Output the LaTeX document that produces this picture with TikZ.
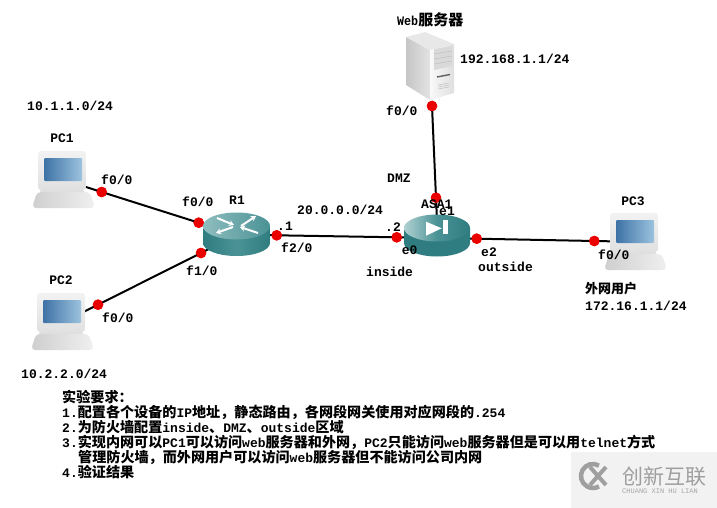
\documentclass[tikz,border=0pt]{standalone}
\usepackage{fontspec}
\setmainfont{Liberation Mono}[BoldFont={Liberation Mono Bold}]
\newfontfamily\cjk{Noto Sans CJK SC}
\newfontfamily\narrow[FakeStretch=0.9]{Liberation Mono Bold}
\usetikzlibrary{arrows.meta,calc}
\newcommand{\Zh}[1]{{\cjk\bfseries #1}}
\newcommand{\Zt}[1]{{\cjk\bfseries\fontsize{15}{15}\selectfont #1}}
\newcommand{\Zb}[1]{{\cjk\bfseries\fontsize{14.1}{15}\selectfont #1}}
\definecolor{tealA}{HTML}{2F7D80}
\definecolor{tealB}{HTML}{4A9295}
\definecolor{tealC}{HTML}{8FBDBF}
\definecolor{scrA}{HTML}{3E72A6}
\definecolor{scrB}{HTML}{9CC3DE}
\tikzset{
  lbl/.style={font=\fontsize{13}{15}\selectfont\bfseries, inner sep=0pt, anchor=west, text=black},
  ctr/.style={lbl, anchor=center},
  port/.style={circle, fill=red!92!black, draw=none, minimum size=10.5pt, inner sep=0pt},
  link/.style={draw=black, line width=2pt},
  pics/laptop/.style={code={
    \path[fill=gray!25, rounded corners=1pt] (2,39) rectangle (46,43);
    \path[left color=gray!38, right color=gray!12, rounded corners=4pt] (-1,41) -- (52,41) -- (57,57) -- (-6,57) -- cycle;
    \path[top color=gray!10, bottom color=gray!24, rounded corners=3pt] (0,0) rectangle (48,39);
    \path[left color=scrA, right color=scrB, rounded corners=1pt] (6,7) rectangle (44,30);
  }},
}
\begin{document}
\begin{tikzpicture}[x=1pt,y=-1pt]
\useasboundingbox (0,0) rectangle (717,508);
% watermark
\path[fill=gray!10] (571,452) rectangle (717,508);
\draw[gray!75, line width=4.5pt] (593,476) ++(60:12pt) arc[start angle=60, end angle=300, radius=12pt];
\draw[gray!75, line width=4pt] (590,467) -- (606,485) (590,485) -- (606,467);
\node[inner sep=0pt, anchor=west, text=gray!75, font=\cjk\fontsize{21}{21}\selectfont] (wm1) at (622,477) {创新互联};
\node[inner sep=0pt, anchor=west, text=gray!70, font=\fontsize{7}{7}\selectfont] (wm2) at (622,491) {CHUANG XIN HU LIAN};
% port nodes
\node[port] (p1) at (101.7,192) {};
\node[port] (r1a) at (198.7,222.7) {};
\node[port] (r1b) at (201,253) {};
\node[port] (p2) at (98,304.7) {};
\node[port] (r1c) at (276.7,235.3) {};
\node[port] (a0) at (396.7,237.3) {};
\node[port] (a2) at (476.7,238.7) {};
\node[port] (p3) at (594.3,241) {};
\node[port] (sv) at (432,106) {};
\node[port] (a1) at (436,197.7) {};
% links
\draw[link, shorten <=-17pt, shorten >=-6pt] (p1.center) -- (r1a.center);
\draw[link, shorten <=-15pt, shorten >=-8pt] (p2.center) -- (r1b.center);
\draw[link, shorten <=-7pt, shorten >=-8pt] (r1c.center) -- (a0.center);
\draw[link, shorten <=-8pt, shorten >=-18pt] (a2.center) -- (p3.center);
\draw[link, shorten <=-5pt, shorten >=-18pt] (sv.center) -- (a1.center);
% laptops
\pic (pc1) at (38,151) {laptop};
\pic (pc2) at (37,293) {laptop};
\pic (pc3) at (610,213) {laptop};
% router
\path[left color=tealA, right color=tealA, middle color=tealB] (203,226) -- (203,243) arc[start angle=180, end angle=360, x radius=33.5pt, y radius=13pt] -- (270,226) -- cycle;
\path[left color=tealC, right color=tealB] (236.5,226) ellipse[x radius=33.5pt, y radius=13.5pt];
\draw[white, line width=2pt, -{Stealth[length=5pt,width=6pt]}] (217,218) -- (234,225);
\draw[white, line width=2pt, -{Stealth[length=5pt,width=6pt]}] (241,226) -- (256,216);
\draw[white, line width=2pt, -{Stealth[length=5pt,width=6pt]}] (233,227) -- (216,233);
\draw[white, line width=2pt, -{Stealth[length=5pt,width=6pt]}] (258,233) -- (240,227);
% ASA
\path[fill=tealA] (404,228) -- (404,243) arc[start angle=180, end angle=360, x radius=33pt, y radius=13.5pt] -- (470,228) -- cycle;
\path[left color=tealC!70!white, right color=tealA, middle color=tealB] (437,228) ellipse[x radius=33pt, y radius=13.5pt];
\path[fill=white] (426,221.7) -- (441.7,228.3) -- (426,235.7) -- cycle;
\path[fill=white] (443,220) rectangle (447.7,234);
% server
\path[left color=gray!45, right color=gray!22] (406,37) -- (430,50) -- (430,100) -- (406,85) -- cycle;
\path[fill=gray!18] (406,37) -- (425,32) -- (454,44) -- (430,50) -- cycle;
\path[left color=gray!5, right color=gray!25] (430,50) -- (454,44) -- (454,93) -- (430,100) -- cycle;
\path[fill=gray!30] (434,49) -- (452,46) -- (452,66) -- (434,70) -- cycle;
\draw[gray!55, line width=.4pt] (434,54) -- (452,51) (434,59) -- (452,56) (434,64) -- (452,61);
\draw[gray!75!black, line width=1.4pt] (437,77) -- (450,74.5);
\draw[gray!50, line width=.5pt] (438,85) -- (449,83) (438,87) -- (449,85) (438,89) -- (449,87);
% ports above devices
\node[port] at (p1) {}; \node[port] at (r1a) {}; \node[port] at (r1b) {}; \node[port] at (p2) {};
\node[port] at (r1c) {}; \node[port] at (a0) {}; \node[port] at (a2) {}; \node[port] at (p3) {};
\node[port] at (sv) {}; \node[port] at (a1) {};
% labels
\node[lbl] (l1) at (27,106) {10.1.1.0/24};
\node[ctr] (l2) at (62,138) {PC1};
\node[lbl] (l3) at (101,179.5) {f0/0};
\node[lbl] (l4) at (182,201.7) {f0/0};
\node[lbl] (l5) at (229,200.5) {R1};
\node[lbl] (l6) at (277,226.5) {.1};
\node[lbl] (l7) at (281,248) {f2/0};
\node[lbl] (l8) at (186,270.5) {f1/0};
\node[ctr] (l9) at (61,280) {PC2};
\node[lbl] (l10) at (102,318) {f0/0};
\node[lbl] (l11) at (21,374) {10.2.2.0/24};
\node[lbl] (l12) at (297,210) {20.0.0.0/24};
\node[lbl] (l13) at (385,227) {.2};
\node[lbl] (l14) at (401.7,250) {e0};
\node[lbl] (l15) at (366,272) {inside};
\node[lbl] (l16) at (421,204) {ASA1};
\node[lbl] (l17) at (439,211) {e1};
\node[lbl] (l18) at (387,178) {DMZ};
\node[lbl] (l19) at (386,111) {f0/0};
\node[lbl] (l20) at (397,20) {{\narrow Web}\Zt{服务器}};
\node[lbl] (l21) at (460,59) {192.168.1.1/24};
\node[ctr] (l22) at (633,201) {PC3};
\node[lbl] (l23) at (598,255) {f0/0};
\node[lbl] (l24) at (481,252) {e2};
\node[lbl] (l25) at (478,267) {outside};
\node[lbl] (l26) at (585,289) {\Zh{外网用户}};
\node[lbl] (l27) at (585,306) {172.16.1.1/24};
% requirements
\node[lbl, anchor=north west, align=left] (req) at (62,390) {%
\lineskiplimit=-20pt\relax
\Zb{实验要求：}\\
1.\Zb{配置各个设备的}IP\Zb{地址，静态路由，各网段网关使用对应网段的}.254\\
2.\Zb{为防火墙配置}inside\Zb{、}DMZ\Zb{、}outside\Zb{区域}\\
3.\Zb{实现内网可以}PC1\Zb{可以访问}web\Zb{服务器和外网，}PC2\Zb{只能访问}web\Zb{服务器但是可以用}telnet\Zb{方式}\\
\hspace*{16pt}\Zb{管理防火墙，而外网用户可以访问}web\Zb{服务器但不能访问公司内网}\\
4.\Zb{验证结果}};
\end{tikzpicture}
\end{document}
